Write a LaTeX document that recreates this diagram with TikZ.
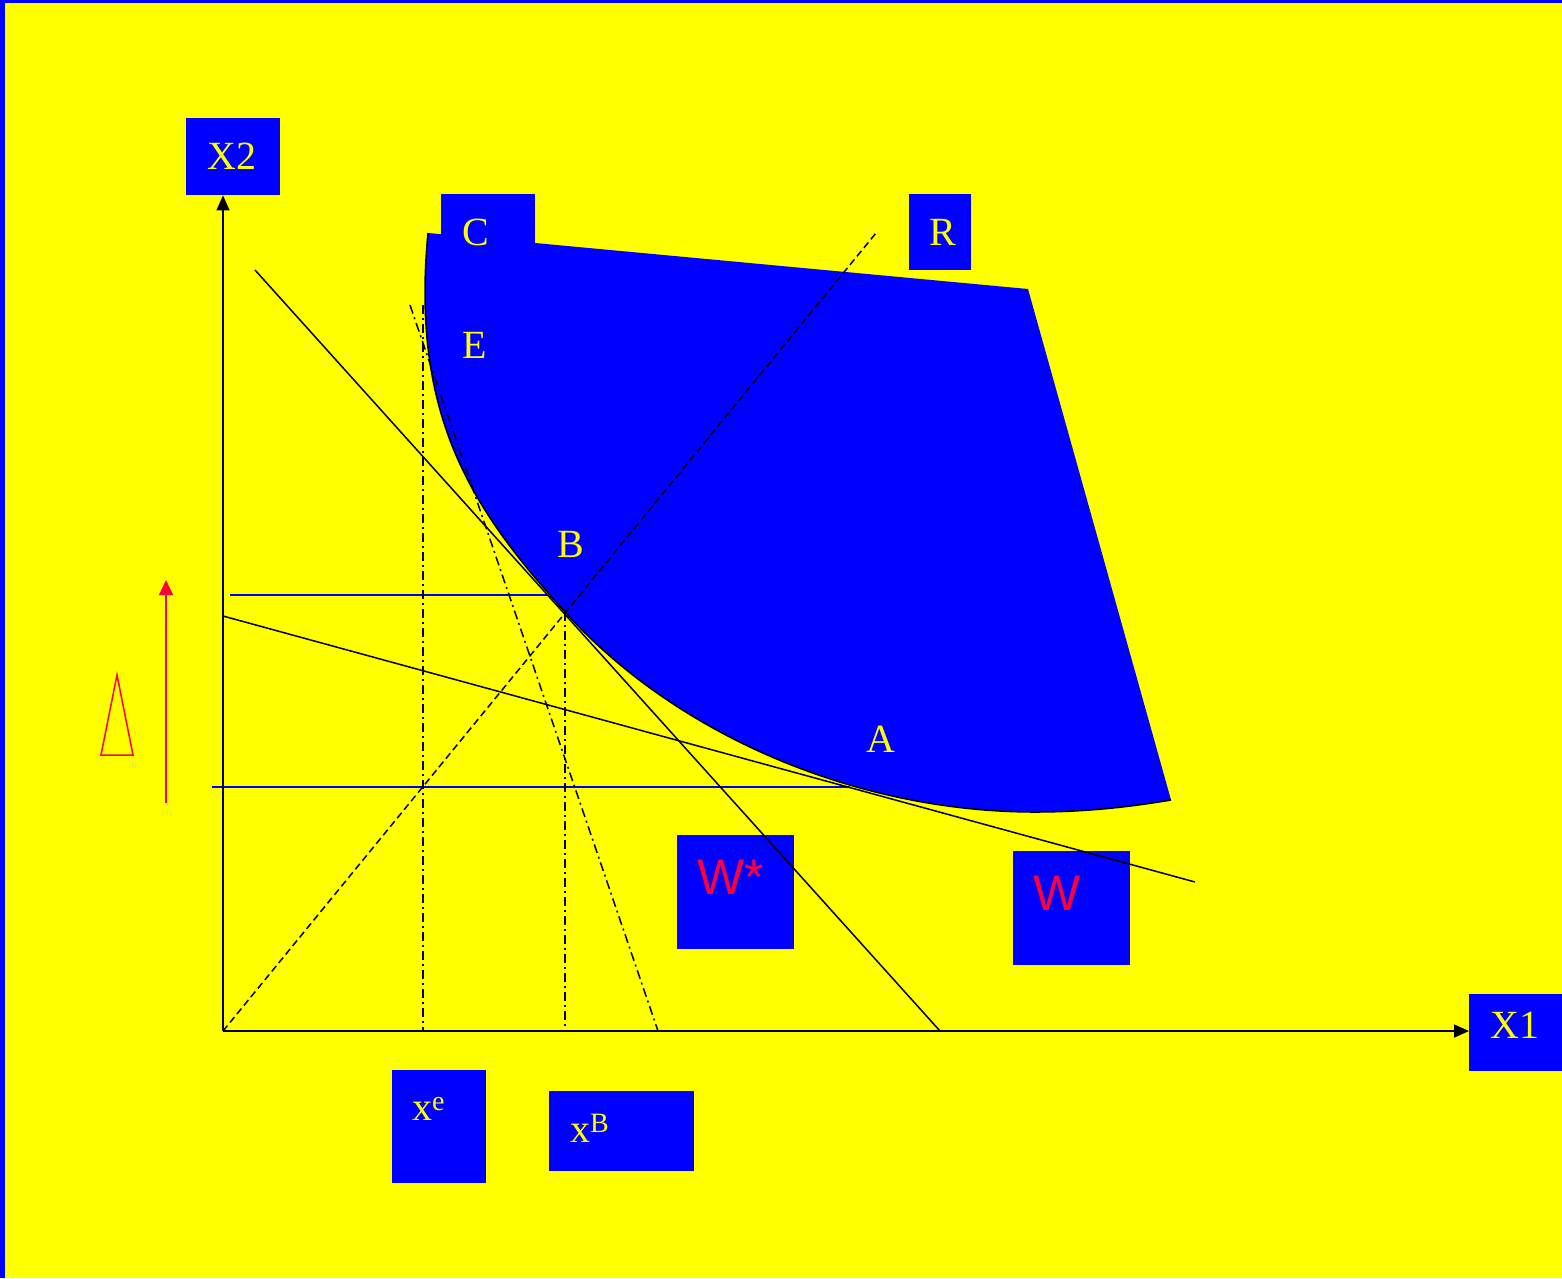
\documentclass[tikz,border=0pt]{standalone}
\usepackage{fontspec}
\setmainfont{Liberation Serif}
\newfontfamily\arialf{Liberation Sans}
\usetikzlibrary{arrows.meta}
\definecolor{yel}{RGB}{255,255,0}
\definecolor{blu}{RGB}{0,0,255}
\definecolor{wred}{RGB}{255,0,60}
\begin{document}
\begin{tikzpicture}[x=1pt,y=-1pt,
  box/.style={fill=blu,draw=none,inner sep=0,anchor=north west},
  lbl/.style={text=yel,inner sep=0,anchor=base west,font=\fontsize{40}{48}\selectfont},
  wlbl/.style={text=wred,inner sep=0,anchor=base west,font=\arialf\fontsize{50}{60}\selectfont},
  blk/.style={line width=1.5pt,black},
  dd/.style={line width=1.5pt,black,dash pattern=on 9pt off 4pt on 2pt off 4pt},
  axarrow/.style={-{Triangle[length=15pt,width=13pt]},line width=1.5pt}]
\useasboundingbox (0,0) rectangle (1562,1278);
\fill[yel] (0,0) rectangle (1562,1278);
\fill[blu] (0,0) rectangle (1562,3);
\fill[blu] (0,0) rectangle (5,1278);
% coordinates
\coordinate (O) at (223,1031);
\coordinate (top) at (428,233);
\coordinate (tr) at (1028,289);
\coordinate (br) at (1171,800);
\coordinate (B) at (565,612);
\coordinate (bot) at (1035,812);
% boxes
\node[box,minimum width=94pt,minimum height=77pt] (x2box) at (186,118) {};
\node[box,minimum width=94pt,minimum height=77pt] (x1box) at (1469,994) {};
\node[box,minimum width=94pt,minimum height=66pt] (cbox) at (441,194) {};
\node[box,minimum width=62pt,minimum height=76pt] (rbox) at (909,194) {};
\node[box,minimum width=117pt,minimum height=114pt] (wsbox) at (677,835) {};
\node[box,minimum width=117pt,minimum height=114pt] (wbox) at (1013,851) {};
\node[box,minimum width=94pt,minimum height=113pt] (xebox) at (392,1070) {};
\node[box,minimum width=145pt,minimum height=80pt] (xbbox) at (549,1091) {};
% blue region
\fill[blu] (top) -- (tr) -- (br)
  .. controls (1135,806) and (1090,812) .. (bot)
  .. controls (855,812) and (675,734) .. (B)
  .. controls (475,512) and (410,420) .. (top) -- cycle;
\draw[blk] (br)
  .. controls (1135,806) and (1090,812) .. (bot)
  .. controls (855,812) and (675,734) .. (B)
  .. controls (475,512) and (410,420) .. (top);
% blue horizontals
\coordinate (h1a) at (230,595); \coordinate (h1b) at (547,595);
\coordinate (h2a) at (212,787); \coordinate (h2b) at (850,787);
\draw[blu,line width=1.8pt] (h1a) -- (h1b);
\draw[blu,line width=1.8pt] (h2a) -- (h2b);
% dash-dot lines
\coordinate (v1a) at (423,305); \coordinate (v1b) at (423,1031);
\coordinate (s1a) at (410,305); \coordinate (s1b) at (658,1031);
\coordinate (v2b) at (565,1031);
\draw[dd] (v1a) -- (v1b);
\draw[dd] (s1a) -- (s1b);
\draw[dd] (B) -- (v2b);
% ray R
\coordinate (Rend) at (876,233);
\draw[line width=1.5pt,dash pattern=on 7pt off 4pt] (O) -- (Rend);
% budget lines
\coordinate (l1a) at (255,270); \coordinate (l1b) at (940,1031);
\coordinate (l2a) at (223,616); \coordinate (l2b) at (1195,882);
\draw[blk] (l1a) -- (l1b);
\draw[blk] (l2a) -- (l2b);
% axes
\draw[axarrow] (O) -- (x2box.south -| O);
\draw[axarrow] (O) -- (O -| x1box.west);
% red arrow and triangle
\coordinate (ra) at (166,803); \coordinate (rb) at (166,580);
\draw[wred,line width=1.3pt,-{Triangle[length=15pt,width=14pt]}] (ra) -- (rb);
\draw[wred,line width=1.5pt] (117,675) -- (133,755) -- (101,755) -- cycle;
% labels
\node[lbl] (tx2) at (207,169) {X2};
\node[lbl] (tx1) at (1490,1038) {X1};
\node[lbl] (tc) at (462,245) {C};
\node[lbl] (tr2) at (929,245) {R};
\node[lbl] (te) at (462,358) {E};
\node[lbl] (tb) at (557,557) {B};
\node[lbl] (ta) at (866,752) {A};
\node[lbl] (txe) at (412,1120) {x\textsuperscript{e}};
\node[lbl] (txb) at (570,1142) {x\textsuperscript{B}};
\node[wlbl] (tws) at (697,894) {W*};
\node[wlbl] (tw) at (1033,910) {W};
\end{tikzpicture}
\end{document}
